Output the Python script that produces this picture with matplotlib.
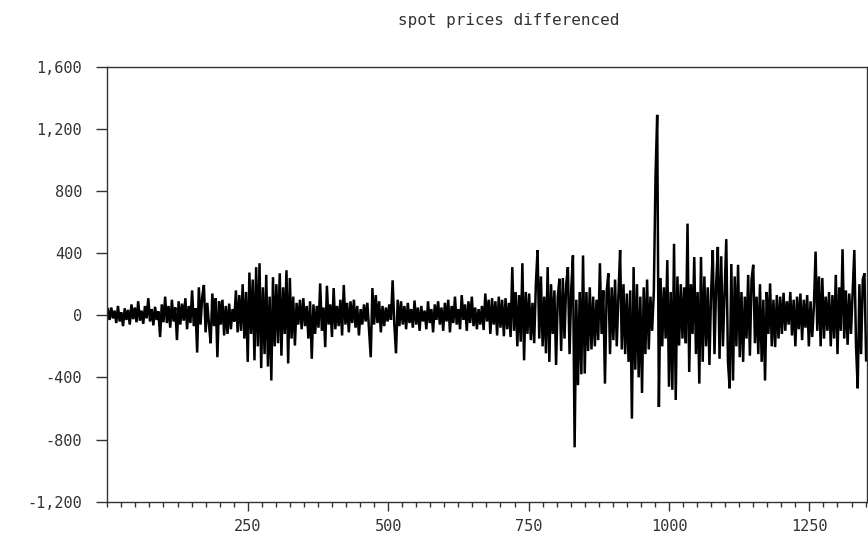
import numpy as np
import matplotlib
matplotlib.use("Agg")
import matplotlib.pyplot as plt
from matplotlib.ticker import MultipleLocator, FuncFormatter, FixedLocator

title_text = "spot prices differenced"
obs_start = 1
obs_step = 3

diff_part1 = [  # obs 1 .. 298
    40, -30, 50, -20, 30, -50, 60, -40, 20, -70,
    45, -30, 35, -60, 70, -25, 50, -45, 90, -35,
    30, -55, 60, -20, 110, -40, 40, -65, 55, -30,
    25, -140, 70, -45, 120, -50, 60, -80, 100, -40,
    50, -160, 90, -60, 75, -35, 110, -90, 60, -50,
    160, -70, 45, -240, 180, -60, 120, 195, -110, 80,
    -60, -180, 140, -70, 110, -270, 90, -60, 100, -130,
    60, -120, 75, -90, 40, -40, 160, -110, 130, -100,
    200, -150, 150, -300, 275, -120, 230, -290, 310, -200,
    335, -340, 180, -250, 260, -330, 120, -420, 245, -200,
]
diff_part2 = [  # obs 301 .. 598
    200, -180, 270, -260, 180, -120, 290, -310, 240, -150,
    120, -195, 80, -60, 100, -90, 110, -70, 60, -150,
    90, -280, 70, -120, 60, -80, 205, -100, 50, -205,
    190, -60, 70, -140, 175, -90, 60, -70, 100, -130,
    195, -60, 80, -110, 90, -50, 100, -80, 60, -130,
    40, -60, 70, -40, 80, -100, -270, 175, -60, 130,
    -50, 90, -110, 60, -70, 50, -40, 70, -30, 225,
    -60, -245, 100, -70, 90, -60, 60, -90, 80, -50,
    40, -80, 95, -60, 50, -100, 60, -40, 30, -90,
    90, -50, 40, -110, 70, -30, 90, -60, 50, -100,
]
diff_part3 = [  # obs 601 .. 898
    80, -40, 100, -110, 60, -50, 120, -60, 40, -90,
    130, -30, 70, -100, 90, -50, 120, -70, 50, -90,
    40, -60, 60, -95, 140, -40, 100, -120, 110, -60,
    90, -130, 120, -80, 100, -135, 110, -90, 80, -140,
    310, -100, 150, -200, 130, -170, 335, -290, 150, -120,
    140, -160, 80, -180, 200, 420, -150, 250, -200, 120,
    -245, 310, -300, 200, -120, 160, -320, 120, 235, -230,
    240, -150, 200, 310, -250, 170, 385, -850, 100, -450,
    150, -380, 385, -375, 150, -230, 180, -220, 120, -200,
    100, -160, 335, -120, 160, -440, 150, 270, -250, 180,
]
diff_part4 = [  # obs 901 .. 1198
    -160, 230, -200, 130, 420, -220, 200, -250, 140, -300,
    160, -665, 310, -350, 200, -400, 120, -500, 180, -250,
    230, -220, 120, -100, 150, 890, 1290, -590, 240, -200,
    180, -150, 355, -460, 150, -480, 460, -545, 250, -195,
    200, -150, 180, -180, 590, -365, 200, -120, 375, -250,
    150, -440, 375, -300, 250, -200, 180, -320, 150, 420,
    -250, 200, 440, -280, 380, -200, 150, 490, -300, -470,
    330, -420, 250, -200, 325, -270, 150, -300, 120, -150,
    260, -260, 230, 325, -180, 120, -250, 200, -300, 100,
    -420, 150, -120, 205, -200, 100, -205, 130, -150, 120,
]
diff_part5 = [  # obs 1201 .. 1351
    -120, 145, -100, 90, -60, 150, -130, 100, -200, 120,
    -90, 140, -160, 100, -80, 130, -200, 90, -140, 60,
    410, -100, 250, -200, 240, -150, 120, -100, 150, -200,
    130, -150, 260, -250, 180, -100, 425, -150, 160, -190,
    140, -120, 150, 420, -200, -470, 200, -250, 230, 270,
    -290,
]

values = np.concatenate([diff_part1, diff_part2, diff_part3, diff_part4, diff_part5])
obs = obs_start + obs_step * np.arange(len(values))

x_major = [250, 500, 750, 1000, 1250]
y_major = [-1200, -800, -400, 0, 400, 800, 1200, 1600]

# ---- figure ----
font = ["DejaVu Sans Mono", "DejaVu Sans"]
plt.rcParams["font.family"] = font
text_color = "#333333"

W, H = 868, 540
fig = plt.figure(figsize=(W / 100, H / 100), dpi=100)
left, right, top, bottom = 107.3, 866.7, 66.7, 501.7
ax = fig.add_axes([left / W, 1 - bottom / H, (right - left) / W, (bottom - top) / H])

ax.plot(obs, values, color="black", linewidth=1.8, solid_joinstyle="miter")

ax.set_xlim(0, 1352)
ax.set_ylim(-1200, 1600)

ax.xaxis.set_major_locator(FixedLocator(x_major))
ax.xaxis.set_minor_locator(MultipleLocator(25))
ax.yaxis.set_major_locator(FixedLocator(y_major))
ax.yaxis.set_major_formatter(FuncFormatter(lambda v, p: f"{v:,.0f}"))
ax.xaxis.set_major_formatter(FuncFormatter(lambda v, p: f"{v:.0f}"))

ax.tick_params(axis="x", which="major", direction="out", length=6.5, width=1,
               pad=6, labelsize=11, colors=text_color)
ax.tick_params(axis="x", which="minor", direction="out", length=3.6, width=1,
               colors=text_color)
ax.tick_params(axis="y", which="major", direction="out", length=8, width=1,
               pad=10, labelsize=11, colors=text_color)

for s in ax.spines.values():
    s.set_color(text_color)
    s.set_linewidth(1)

fig.text(509 / W, 1 - 21 / H, title_text, ha="center", va="center",
         fontsize=11.5, color=text_color, family=font)

fig.savefig("out.png", dpi=100, facecolor="white")
